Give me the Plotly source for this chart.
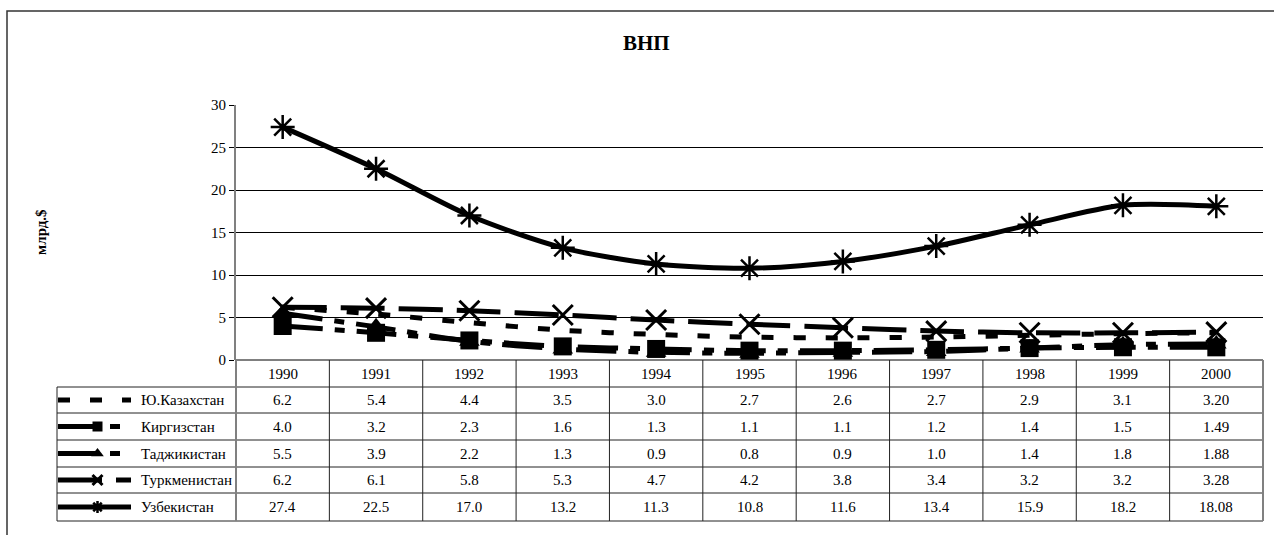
import plotly.graph_objects as go

# ---- data -------------------------------------------------------------
years = ["1990", "1991", "1992", "1993", "1994", "1995",
         "1996", "1997", "1998", "1999", "2000"]

series_names = ["Ю.Казахстан", "Киргизстан", "Таджикистан",
                "Туркменистан", "Узбекистан"]

kazakhstan   = [6.2, 5.4, 4.4, 3.5, 3.0, 2.7, 2.6, 2.7, 2.9, 3.1, 3.20]
kyrgyzstan   = [4.0, 3.2, 2.3, 1.6, 1.3, 1.1, 1.1, 1.2, 1.4, 1.5, 1.49]
tajikistan   = [5.5, 3.9, 2.2, 1.3, 0.9, 0.8, 0.9, 1.0, 1.4, 1.8, 1.88]
turkmenistan = [6.2, 6.1, 5.8, 5.3, 4.7, 4.2, 3.8, 3.4, 3.2, 3.2, 3.28]
uzbekistan   = [27.4, 22.5, 17.0, 13.2, 11.3, 10.8, 11.6, 13.4, 15.9, 18.2, 18.08]

# number of decimals shown in the data table, per year column
decimals = [1, 1, 1, 1, 1, 1, 1, 1, 1, 1, 2]

series_values = [kazakhstan, kyrgyzstan, tajikistan, turkmenistan, uzbekistan]

title_text = "ВНП"
y_title = "млрд.$"

# ---- styles -----------------------------------------------------------
FONT = "Liberation Serif, Times New Roman, serif"
styles = [
    dict(dash="12px,20px", symbol=None, size=0, key_size=0, mlw=0),
    dict(dash="40px,12px,10px,12px", symbol="square", size=18, key_size=10, mlw=0),
    dict(dash="40px,12px,10px,12px", symbol="triangle-up", size=18, key_size=11, mlw=0),
    dict(dash="44px,14px", symbol="x-thin-open", size=20, key_size=10, mlw=3),
    dict(dash="solid", symbol="asterisk-open", size=20, key_size=10, mlw=2.5),
]

# ---- page geometry (pixels) -------------------------------------------
W, H = 1274, 535
PL, PR, PT, PB = 236, 1263, 105, 360          # plot area
row_edges = [360, 387, 413, 440, 467, 493, 521]  # header + 5 data rows
table_left = 57
key_x0, key_x1, key_mid = 58, 131, 97.5
label_x = 139

fig = go.Figure()

# ---- chart lines --------------------------------------------------------
for name, vals, st in zip(series_names, series_values, styles):
    mode = "lines+markers" if st["symbol"] else "lines"
    fig.add_trace(go.Scatter(
        x=years, y=vals, name=name, mode=mode,
        line=dict(color="black", width=5, dash=st["dash"], shape="spline", smoothing=0.8),
        marker=dict(symbol=st["symbol"] or "circle", size=st["size"], color="black",
                    line=dict(color="black", width=st["mlw"])),
        xaxis="x", yaxis="y", cliponaxis=False, showlegend=False,
    ))

# ---- legend keys inside the data table (pixel overlay axes) -----------
for i, st in enumerate(styles):
    yc = (row_edges[i + 1] + row_edges[i + 2]) / 2
    fig.add_trace(go.Scatter(
        x=[key_x0, key_x1], y=[yc, yc], mode="lines",
        line=dict(color="black", width=5, dash=st["dash"]),
        xaxis="x2", yaxis="y2", showlegend=False, hoverinfo="skip",
    ))
    if st["symbol"]:
        fig.add_trace(go.Scatter(
            x=[key_mid], y=[yc], mode="markers",
            marker=dict(symbol=st["symbol"], size=st["key_size"], color="black",
                        line=dict(color="black", width=max(st["mlw"], 2) if "open" in st["symbol"] else 0)),
            xaxis="x2", yaxis="y2", showlegend=False, hoverinfo="skip",
        ))

shapes = []
line_col = "#222222"
# horizontal table rules
shapes.append(dict(type="line", xref="x2", yref="y2", x0=PL, x1=PR,
                   y0=row_edges[0], y1=row_edges[0], line=dict(color="black", width=1)))
for yv in row_edges[1:]:
    shapes.append(dict(type="line", xref="x2", yref="y2", x0=table_left, x1=PR,
                       y0=yv, y1=yv, line=dict(color=line_col, width=1)))
# left edge of the key column
shapes.append(dict(type="line", xref="x2", yref="y2", x0=table_left, x1=table_left,
                   y0=row_edges[1], y1=row_edges[-1], line=dict(color=line_col, width=1)))
# year column separators (category boundaries)
for k in range(len(years) - 1):
    shapes.append(dict(type="line", xref="x", yref="y2", x0=k + 0.5, x1=k + 0.5,
                       y0=row_edges[0], y1=row_edges[-1], line=dict(color=line_col, width=1)))
# outer verticals of the year columns
shapes.append(dict(type="line", xref="x2", yref="y2", x0=PL, x1=PL,
                   y0=row_edges[0], y1=row_edges[-1], line=dict(color="#808080", width=2)))
shapes.append(dict(type="line", xref="x2", yref="y2", x0=PR, x1=PR,
                   y0=row_edges[0], y1=row_edges[-1], line=dict(color="#808080", width=2)))
# chart-area border
shapes.append(dict(type="rect", xref="x2", yref="y2", x0=7, x1=W + 10, y0=11, y1=H + 10,
                   line=dict(color="#333333", width=1.5)))

annotations = []
# title and axis title
annotations.append(dict(xref="x2", yref="y2", x=646, y=43, text="<b>%s</b>" % title_text,
                        showarrow=False, font=dict(family=FONT, size=21, color="black")))
annotations.append(dict(xref="x2", yref="y2", x=41, y=232, text="<b>%s</b>" % y_title,
                        textangle=-90, showarrow=False,
                        font=dict(family=FONT, size=15, color="black")))
# header row: years (positioned by category index on the x axis)
hdr_y = (row_edges[0] + row_edges[1]) / 2
for k, yr in enumerate(years):
    annotations.append(dict(xref="x", yref="y2", x=k, y=hdr_y, text=yr, showarrow=False,
                            font=dict(family=FONT, size=15, color="black")))
# data rows
for i, (name, vals) in enumerate(zip(series_names, series_values)):
    yc = (row_edges[i + 1] + row_edges[i + 2]) / 2
    annotations.append(dict(xref="x2", yref="y2", x=label_x, y=yc, text=name,
                            xanchor="left", showarrow=False,
                            font=dict(family=FONT, size=15, color="black")))
    for k, (v, d) in enumerate(zip(vals, decimals)):
        annotations.append(dict(xref="x", yref="y2", x=k, y=yc, text=f"{v:.{d}f}",
                                showarrow=False, font=dict(family=FONT, size=15, color="black")))

fig.update_layout(
    width=W, height=H,
    margin=dict(l=0, r=0, t=0, b=0, pad=0, autoexpand=False),
    paper_bgcolor="white", plot_bgcolor="rgba(0,0,0,0)",
    font=dict(family=FONT, size=15, color="black"),
    xaxis=dict(
        type="category", categoryorder="array", categoryarray=years,
        domain=[PL / W, PR / W], range=[-0.5, len(years) - 0.5],
        showticklabels=False, showgrid=False, zeroline=False,
        showline=False, ticks="", anchor="y", fixedrange=True,
    ),
    yaxis=dict(
        domain=[(H - PB) / H, (H - PT) / H], range=[0, 30], dtick=5,
        showgrid=True, gridcolor="black", gridwidth=1, zeroline=False,
        showline=True, linecolor="#808080", linewidth=2,
        ticks="outside", ticklen=5, tickcolor="black", tickwidth=1,
        tickfont=dict(family=FONT, size=15, color="black"),
        anchor="x", fixedrange=True,
    ),
    xaxis2=dict(domain=[0, 1], range=[0, W], visible=False, anchor="y2", fixedrange=True),
    yaxis2=dict(domain=[0, 1], range=[H, 0], visible=False, anchor="x2", fixedrange=True),
    shapes=shapes,
    annotations=annotations,
    showlegend=False,
)

fig.write_html("out.html")
